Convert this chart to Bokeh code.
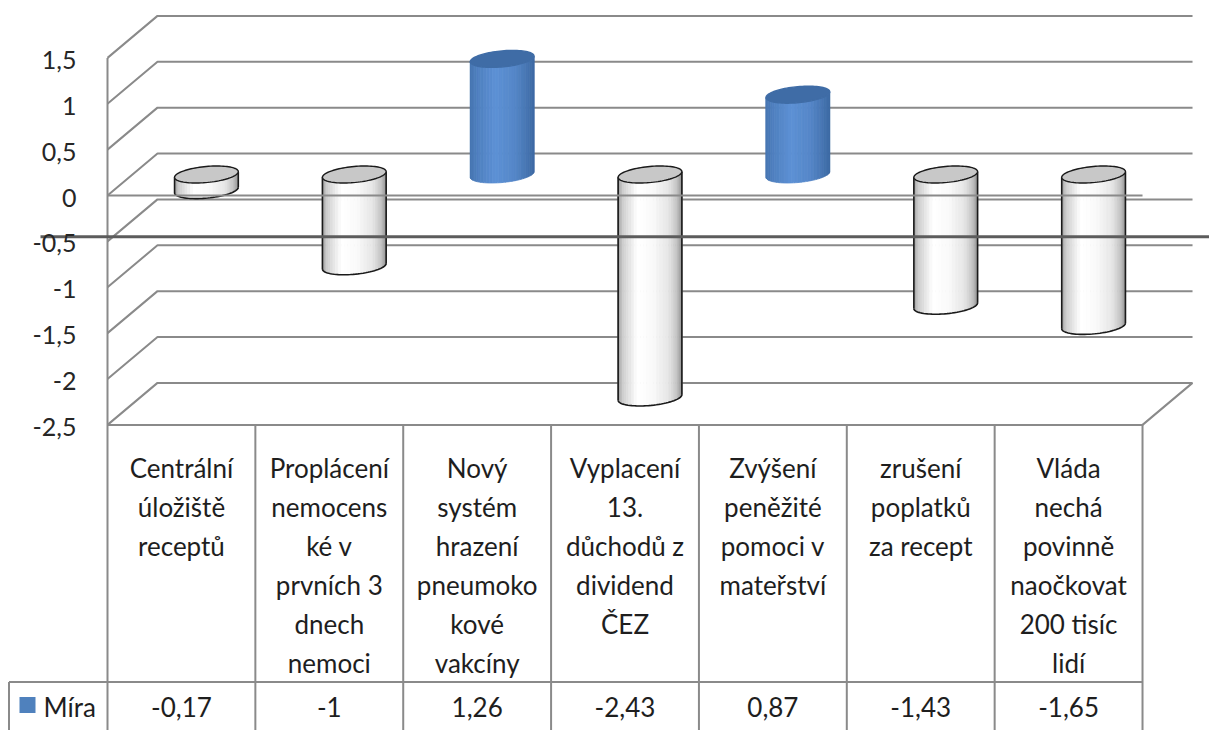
import numpy as np
from bokeh.plotting import figure
from bokeh.models import Range1d, ColumnDataSource
from bokeh.embed import file_html
from bokeh.resources import INLINE
from bokeh.core.properties import value

# ---------------- data ----------------
categories = [
    "Centrální\núložiště\nreceptů",
    "Proplácení\nnemocens\nké v\nprvních 3\ndnech\nnemoci",
    "Nový\nsystém\nhrazení\npneumoko\nkové\nvakcíny",
    "Vyplacení\n13.\ndůchodů z\ndividend\nČEZ",
    "Zvýšení\npeněžité\npomoci v\nmateřství",
    "zrušení\npoplatků\nza recept",
    "Vláda\nnechá\npovinně\nnaočkovat\n200 tisíc\nlidí",
]
values = [-0.17, -1, 1.26, -2.43, 0.87, -1.43, -1.65]
series_name = "Míra"
y_ticks = [1.5, 1, 0.5, 0, -0.5, -1, -1.5, -2, -2.5]

# ---------------- layout constants ----------------
W, H = 1209, 730
COL_PX = 147.86          # pixels per category
UNIT_PX = 91.75          # pixels per value unit
ORIGIN_X_PX = 107        # frame px where categories start
ORIGIN_Y_PX = 195        # frame px (from top) of value 0
DEPTH_X_PX, DEPTH_Y_PX = 50, 42
N = len(categories)
YMIN, YMAX = min(y_ticks), max(y_ticks)

ddx = DEPTH_X_PX / COL_PX
ddy = DEPTH_Y_PX / UNIT_PX

GRID = "#8a8a8a"
TEXT = "#1e1e1e"
FONT = value("Lato")

def fmt(v):
    return f"{v:g}".replace(".", ",")

def px_x(px):
    return (px - ORIGIN_X_PX) / COL_PX

x_range = Range1d(-ORIGIN_X_PX / COL_PX, (W - ORIGIN_X_PX) / COL_PX)
y_range = Range1d((ORIGIN_Y_PX - H) / UNIT_PX, ORIGIN_Y_PX / UNIT_PX)

p = figure(width=W, height=H, x_range=x_range, y_range=y_range,
           output_backend="svg", toolbar_location=None, title=None,
           x_axis_location=None, y_axis_location=None, min_border=0,
           outline_line_color=None, background_fill_color="white",
           border_fill_color="white")
p.grid.grid_line_color = None

# ---------------- walls / gridlines ----------------
xs, ys = [], []
for v in y_ticks:
    xs.append([0, ddx, N + ddx]); ys.append([v, v + ddy, v + ddy])
xs.append([0, 0]); ys.append([YMIN, YMAX])                        # left front edge
xs.append([0, N, N + ddx]); ys.append([YMIN, YMIN, YMIN + ddy])  # floor front + right
p.multi_line(xs, ys, line_color=GRID, line_width=2)

# ---------------- cylinders ----------------
phi = np.deg2rad(5.4)
A, B = 32.0, 8.0
t0 = np.arctan(-B * np.tan(phi) / A)
tl = t0 + np.pi

def ell(t):
    ex = A * np.cos(t) * np.cos(phi) - B * np.sin(t) * np.sin(phi)
    ey = A * np.cos(t) * np.sin(phi) + B * np.sin(t) * np.cos(phi)
    return ex / COL_PX, ey / UNIT_PX

exl = ell(tl)[0]; exr = ell(tl + np.pi)[0]

def hexc(r, g, b):
    return "#%02x%02x%02x" % (int(round(r)), int(round(g)), int(round(b)))

def white_shade(s):
    k = [0, 0.07, 0.3, 0.55, 0.8, 0.93, 1]
    v = [0.58, 0.80, 1.0, 0.98, 0.90, 0.76, 0.58]
    g = 255 * np.interp(s, k, v)
    return hexc(g, g, g)

BLUE_D = np.array([0x33, 0x5d, 0x93])
BLUE_L = np.array([0x5d, 0x91, 0xd5])
def blue_shade(s):
    k = [0, 0.1, 0.4, 0.7, 0.9, 1]
    v = [0.45, 0.65, 1.0, 0.8, 0.45, 0.25]
    c = BLUE_D + (BLUE_L - BLUE_D) * np.interp(s, k, v)
    return hexc(*c)

NS = 30
strip_xs, strip_ys, strip_c = [], [], []
cap_xs, cap_ys, cap_c, cap_lc = [], [], [], []
out_xs, out_ys = [], []
for i, v in enumerate(values):
    cx = i + 0.5 + ddx / 2
    base = ddy / 2
    hi, lo = (v + base, base) if v >= 0 else (base, v + base)
    pos = v >= 0
    for k in range(NS):
        ts = np.linspace(tl + k * np.pi / NS, tl + (k + 1) * np.pi / NS, 4)
        ex, ey = ell(ts)
        sx = list(cx + ex) + list(cx + ex[::-1])
        sy = list(hi + ey) + list(lo + ey[::-1])
        strip_xs.append(sx); strip_ys.append(sy)
        s = (ell(ts[1:3].mean())[0] - exl) / (exr - exl)
        strip_c.append(blue_shade(s) if pos else white_shade(s))
    tt = np.linspace(0, 2 * np.pi, 90)
    ex, ey = ell(tt)
    cap_xs.append(list(cx + ex)); cap_ys.append(list(hi + ey))
    cap_c.append("#3f6ca6" if pos else "#c8c8c8")
    cap_lc.append("#3f6ca6" if pos else "#1a1a1a")
    if not pos:
        ta = np.linspace(tl, tl + np.pi, 40)
        fx, fy = ell(ta)
        out_xs.append([cx + exl, cx + exl]); out_ys.append([hi + ell(tl)[1], lo + ell(tl)[1]])
        out_xs.append([cx + exr, cx + exr]); out_ys.append([hi + ell(tl + np.pi)[1], lo + ell(tl + np.pi)[1]])
        out_xs.append(list(cx + fx)); out_ys.append(list(lo + fy))

p.patches(strip_xs, strip_ys, fill_color=strip_c, line_color=strip_c, line_width=0.8)
p.multi_line(out_xs, out_ys, line_color="#1a1a1a", line_width=1.6)
p.patches(cap_xs, cap_ys, fill_color=cap_c, line_color=cap_lc, line_width=1.4)

# front zero line and the dark horizontal line over the chart
p.line([0, N], [0, 0], line_color=GRID, line_width=2)
STRAY_Y = -0.45
p.line([px_x(40), x_range.end], [STRAY_Y, STRAY_Y], line_color="#5c5c5c", line_width=3)

# ---------------- data table ----------------
HEADER_PX = 257
row_sep = YMIN - HEADER_PX / UNIT_PX
left_edge = px_x(8.5)
tx, ty = [], []
for i in range(N + 1):
    tx.append([i, i]); ty.append([YMIN, y_range.start])
tx.append([left_edge, N]); ty.append([row_sep, row_sep])
tx.append([left_edge, left_edge]); ty.append([row_sep, y_range.start])
p.multi_line(tx, ty, line_color=GRID, line_width=2)

lx, ly, lt, lo_ = [], [], [], []
for i, c in enumerate(categories):
    for k, line in enumerate(c.split("\n")):
        lx.append(i + 0.5); ly.append(YMIN); lt.append(line); lo_.append(43 + 39 * k)
p.text(x="x", y="y", text="t", y_offset="o",
       source=ColumnDataSource(dict(x=lx, y=ly, t=lt, o=lo_)),
       text_font=FONT, text_font_size="26px", text_color=TEXT,
       text_align="center", text_baseline="middle")

p.text(x=[i + 0.5 for i in range(N)], y=[row_sep] * N, text=[fmt(v) for v in values],
       y_offset=25, text_font=FONT, text_font_size="26px", text_color=TEXT,
       text_align="center", text_baseline="middle")

# legend key in table
p.scatter(x=[px_x(27)], y=[row_sep - 23 / UNIT_PX], marker="square",
          size=16, fill_color="#4f81bd", line_color=None)
p.text(x=[px_x(43)], y=[row_sep], text=[series_name], y_offset=25,
       text_font=FONT, text_font_size="26px", text_color=TEXT,
       text_align="left", text_baseline="middle")

# ---------------- value axis labels ----------------
p.text(x=[px_x(76)] * len(y_ticks), y=y_ticks,
       text=[fmt(v) for v in y_ticks], y_offset=2,
       text_font=FONT, text_font_size="25px", text_color="#262626",
       text_align="right", text_baseline="middle")

open("out.html", "w", encoding="utf-8").write(file_html(p, INLINE))
